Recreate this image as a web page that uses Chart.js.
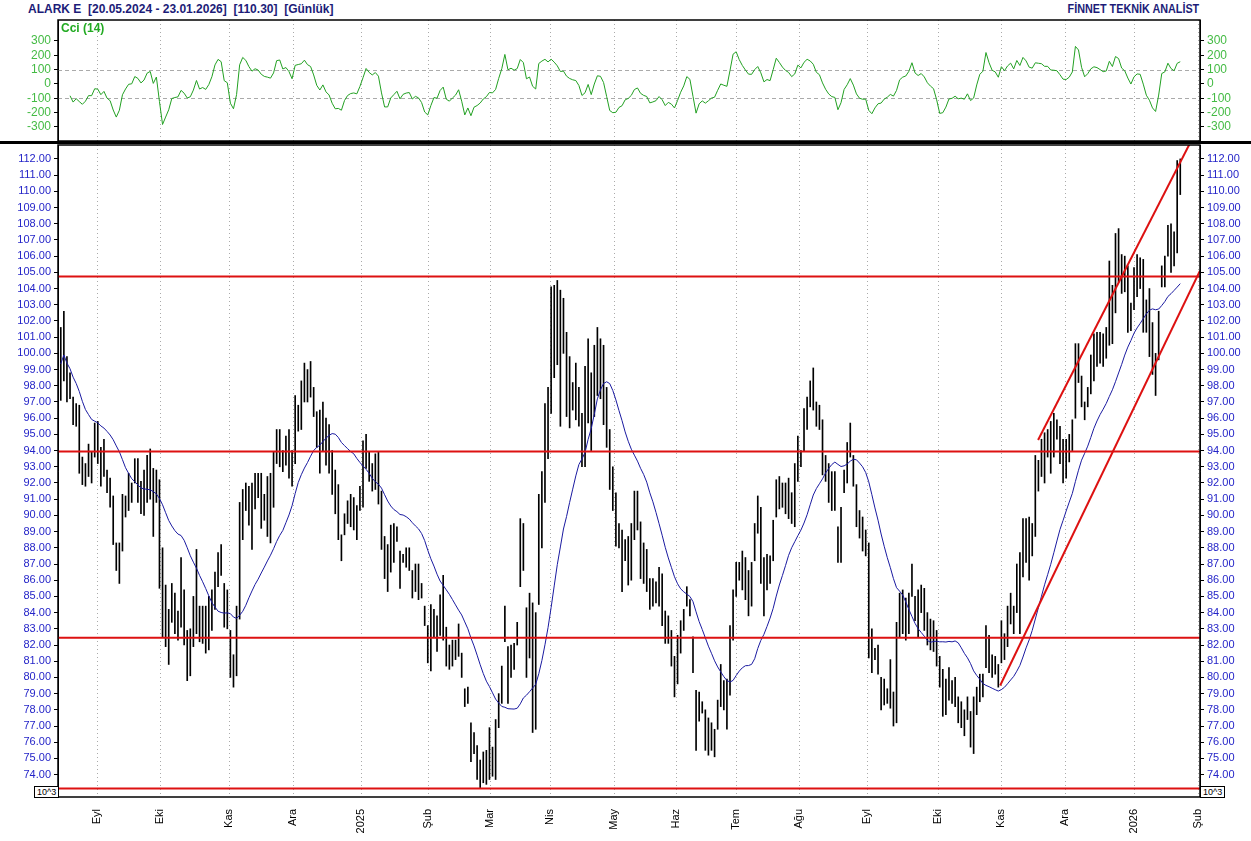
<!DOCTYPE html>
<html><head><meta charset="utf-8">
<script src="https://cdn.jsdelivr.net/npm/chart.js@4/dist/chart.umd.min.js"></script>
<style>
body{margin:0;width:1251px;height:841px;background:#fff;position:relative;overflow:hidden;font-family:"Liberation Sans",Arial,sans-serif}
canvas{position:absolute;left:0}
.t{position:absolute;font-weight:bold;font-size:12px;color:#1c1c78;white-space:pre}
.box{position:absolute;border:1px solid #000;font-size:9px;background:#fff;padding:0 2px;line-height:10px}
</style></head><body>
<div class="t" style="left:28px;top:2px">ALARK E  [20.05.2024 - 23.01.2026]  [110.30]  [Günlük]</div>
<div class="t" style="right:52px;top:2px;transform:scaleX(0.9);transform-origin:right">FİNNET TEKNİK ANALİST</div>
<canvas id="cci" width="1251" height="123" style="top:19px"></canvas>
<div style="position:absolute;left:0;top:141px;width:1251px;height:3px;background:#000"></div>
<canvas id="px" width="1251" height="697" style="top:144px"></canvas>
<div class="t" style="left:61px;top:21px;color:#22aa22">Cci (14)</div>
<div class="box" style="left:34px;top:786px">10^3</div>
<div class="box" style="left:1200px;top:786px">10^3</div>
<script>
const highs = [
101.6,102.6,99.8,98.8,97.3,96.9,96.8,93.6,93.2,94.4,93.9,95.7,95.8,94.2,94.7,92.8,92.3,91.2,88.3,88.3,91.3,91.2,92.6,92.0,93.5,93.5,92.1,92.8,93.7,94.1,92.9,92.8,92.2,88.0,85.7,84.2,85.8,85.2,84.1,87.4,85.4,82.9,83.0,85.0,87.9,84.4,84.4,84.4,85.0,85.4,86.5,87.7,88.2,85.8,85.4,82.9,81.4,84.4,90.8,91.6,92.0,91.8,92.0,92.6,92.6,
92.6,91.3,92.4,92.6,93.9,95.3,95.3,94.0,94.9,95.3,94.0,97.4,96.8,98.3,99.4,99.0,99.5,97.9,96.4,96.5,97.0,96.0,95.6,94.0,92.8,91.9,88.8,90.1,90.9,91.3,91.1,90.6,91.8,94.6,95.0,93.9,93.2,93.8,93.9,91.5,88.7,88.2,89.4,89.5,89.3,87.8,87.6,88.0,88.0,86.6,87.0,87.0,85.8,84.4,83.2,84.5,84.2,83.8,
85.1,86.3,83.1,82.0,82.3,82.3,83.3,81.5,79.3,79.4,77.2,76.6,75.8,74.9,75.4,75.5,76.9,75.7,77.4,79.0,80.7,84.4,81.9,82.0,82.1,83.4,89.8,89.5,84.3,85.2,84.6,84.0,91.3,92.7,96.9,97.9,104.1,104.2,104.5,103.9,103.4,101.3,99.8,98.2,99.4,97.9,96.3,99.2,100.9,98.8,100.5,101.6,100.9,100.5,97.9,95.3,93.0,91.4,89.5,89.1,88.5,88.7,
89.5,91.5,91.5,89.6,88.3,87.9,86.1,86.1,85.9,86.8,86.4,84.1,83.8,82.9,81.3,82.6,83.5,84.2,85.6,84.8,82.5,79.2,79.1,78.5,78.0,77.5,77.2,76.8,78.6,80.8,79.8,79.9,83.2,85.4,87.1,87.1,87.8,87.4,86.6,87.1,89.5,91.2,90.5,87.4,87.6,87.5,89.7,92.2,92.4,92.0,92.0,92.3,91.4,93.2,94.9,94.0,96.6,97.3,98.3,99.1,97.0,
96.8,95.9,93.7,93.2,92.7,92.7,89.3,90.5,92.8,94.5,95.7,93.7,91.9,90.3,89.9,89.1,88.3,83.0,81.8,82.0,80.0,79.9,79.3,81.1,79.1,83.4,85.2,85.4,84.9,85.2,87.0,85.0,85.4,85.7,85.5,84.0,83.6,83.5,82.9,81.3,80.5,79.9,80.6,79.8,80.0,78.8,78.5,78.0,78.8,77.9,78.8,79.4,80.2,80.2,83.2,82.6,81.4,81.3,80.8,83.5,82.7,84.4,
85.2,84.4,87.0,87.7,89.8,89.8,89.9,89.5,93.7,93.4,94.7,95.1,95.3,95.8,96.3,95.9,95.5,94.7,94.7,95.0,95.9,100.6,
100.6,98.6,97.0,97.9,99.9,101.2,101.3,101.3,101.2,101.6,105.7,104.2,107.4,107.7,106.1,106.0,105.4,103.1,105.3,106.1,105.9,105.8,103.3,104.0,101.9,100.0,102.6,105.4,106.0,107.9,108.0,107.5,111.9,112.0];
const lows = [
97.1,98.3,97.0,97.2,95.6,95.5,92.6,91.9,91.8,92.4,92.0,93.6,93.2,91.8,92.4,91.4,90.5,88.2,86.6,85.8,87.8,89.9,90.3,90.8,92.0,90.8,90.1,90.0,90.8,91.0,88.7,90.8,85.5,82.5,81.9,80.8,83.4,82.7,82.3,83.1,82.0,79.8,80.1,81.9,82.7,82.2,82.1,81.5,81.7,82.9,84.2,85.6,86.3,83.1,83.0,80.0,79.4,80.1,83.6,88.5,90.3,89.4,87.9,90.4,91.1,
89.2,89.7,88.7,88.3,90.5,93.2,93.0,92.7,93.1,92.3,91.8,93.2,95.2,95.3,97.0,97.0,97.3,96.1,94.2,92.6,94.0,93.1,92.6,91.3,90.1,88.5,87.2,88.8,89.5,89.3,89.1,88.5,90.3,90.5,92.9,92.1,91.5,91.6,90.7,87.9,86.1,85.3,86.5,87.1,88.4,85.5,87.1,86.8,86.6,84.9,85.3,84.8,84.9,83.2,80.9,80.4,82.5,81.6,
82.6,82.3,80.7,80.5,80.7,81.1,81.3,80.0,78.2,78.4,74.8,75.3,73.7,73.2,73.5,73.4,73.7,73.9,73.7,76.9,78.4,82.2,78.4,80.0,80.5,82.0,85.6,86.6,80.0,81.2,76.6,76.8,84.5,88.0,90.8,93.5,96.3,98.5,99.3,95.5,100.0,96.1,95.4,96.5,95.9,95.5,93.0,93.0,95.7,94.0,96.1,97.4,97.2,95.6,94.2,91.6,90.3,88.1,88.0,85.3,87.2,85.7,
86.0,88.5,89.1,86.1,85.8,85.3,84.2,84.4,84.6,84.4,83.2,82.1,82.1,80.7,78.8,79.6,81.5,82.9,84.4,83.8,80.3,75.5,77.3,77.8,75.5,75.2,75.5,75.1,76.8,78.2,78.0,76.8,78.9,82.3,85.0,86.0,85.4,84.8,83.8,84.4,87.2,88.9,85.8,83.8,85.4,85.8,87.2,89.9,90.4,90.5,90.1,89.8,89.5,89.3,92.1,93.0,94.0,95.3,96.7,96.5,95.5,
95.3,92.5,92.1,90.8,90.3,90.3,87.1,87.1,91.4,92.0,93.6,91.8,89.3,88.6,87.8,87.5,81.2,80.3,81.1,80.2,78.0,78.3,78.4,78.1,77.0,77.2,82.5,82.7,82.3,82.7,85.0,83.5,82.5,84.0,82.9,82.0,81.7,81.6,80.7,79.4,77.6,77.7,78.6,78.4,78.2,77.2,76.9,76.4,77.4,75.7,75.3,77.7,78.5,78.8,80.6,80.3,80.0,80.2,79.4,80.9,81.1,81.9,
83.3,82.7,84.0,82.7,86.2,87.1,86.0,87.5,88.7,91.5,92.4,92.0,93.6,92.6,93.6,94.7,93.2,92.0,92.3,93.3,94.0,96.0,
98.2,96.7,95.9,96.7,97.5,98.3,99.2,99.4,99.2,99.7,100.5,100.6,102.5,104.4,103.7,103.8,101.3,101.4,102.7,103.5,104.0,101.3,101.3,99.8,98.7,97.4,99.6,104.1,104.1,106.0,105.0,105.4,106.2,109.8];
const lastClose = 110.3;
const hLevels = [104.75, 93.95, 82.45, 73.15];
const upperChannel = [[316.9, 94.65], [366.5, 113.1]];
const lowerChannel = [[304.6, 79.5], [369.4, 105.1]];
const monthTickIdx = [11.8,32.2,54.6,75.3,97.4,119.1,139.2,158.7,179.4,199.5,219.0,239.4,261.4,284.5,304.9,325.7,348.1,368.7];
const monthLabels = ['Eyl','Eki','Kas','Ara','2025','Şub','Mar','Nis','May','Haz','Tem','Ağu','Eyl','Eki','Kas','Ara','2026','Şub'];
const priceTicks = []; for (let v = 74; v <= 112; v++) priceTicks.push(v);
const cciTicks = [-300,-200,-100,0,100,200,300];
const maPeriod = 20, cciPeriod = 14;

const N = highs.length;
const mids = highs.map((h,i)=>(h+lows[i])/2);
const closes = mids.slice(); closes[N-1] = lastClose;
const tp = highs.map((h,i)=>(h+lows[i]+closes[i])/3);
const ma = closes.map((_,i)=>{const s=Math.max(0,i-maPeriod+1);const w=closes.slice(s,i+1);return {x:i,y:w.reduce((a,b)=>a+b,0)/w.length};});
const cci = tp.map((_,i)=>{ if(i<3) return {x:i,y:null}; const s=Math.max(0,i-cciPeriod+1); const w=tp.slice(s,i+1); const m=w.reduce((a,b)=>a+b,0)/w.length; const md=w.reduce((a,b)=>a+Math.abs(b-m),0)/w.length; return {x:i,y:md?(tp[i]-m)/(0.015*md):0};});
const bars = highs.map((h,i)=>({x:i,y:[lows[i],h]}));

const XMIN=-0.9, XMAX=369.4;
const lblFont={family:'"Liberation Sans", Arial',size:11};
const cciFont={family:'"Liberation Sans", Arial',size:12};
const frame={id:'frame',beforeDatasetsDraw(ch){const {ctx,chartArea:a,scales}=ch;ctx.save();ctx.strokeStyle='#aaa';ctx.lineWidth=1;ctx.setLineDash([1,3]);
  monthTickIdx.forEach(v=>{const x=Math.round(scales.x.getPixelForValue(v))+0.5;ctx.beginPath();ctx.moveTo(x,a.top);ctx.lineTo(x,a.bottom);ctx.stroke();});
  if(ch.canvas.id==='cci'){ctx.setLineDash([4,3]);[100,-100].forEach(v=>{const y=Math.round(scales.y.getPixelForValue(v))+0.5;ctx.beginPath();ctx.moveTo(a.left,y);ctx.lineTo(a.right,y);ctx.stroke();});}
  ctx.restore();},
 afterDraw(ch){const {ctx,chartArea:a}=ch;ctx.save();ctx.strokeStyle='#000';ctx.lineWidth=1.5;ctx.strokeRect(a.left,a.top,a.right-a.left,a.bottom-a.top);ctx.restore();}};
const noPad=s=>{s.paddingLeft=0;s.paddingRight=0;s.paddingTop=0;s.paddingBottom=0;};
const yAxis=(pos,min,max,vals,fmt,color,font)=>({position:pos,min,max,afterFit:s=>{s.width=pos==='left'?58:51;noPad(s);},
  afterBuildTicks:s=>{s.ticks=vals.map(v=>({value:v}));},
  ticks:{color,font,padding:3,callback:fmt},grid:{drawOnChartArea:false,color:'#000',tickLength:4},border:{color:'#000'}});

new Chart(document.getElementById('px'),{type:'bar',
 data:{datasets:[
  {type:'line',data:ma,borderColor:'#1a1aa0',borderWidth:1,pointRadius:0,tension:0,order:2},
  ...hLevels.map(v=>({type:'line',data:[{x:XMIN,y:v},{x:XMAX,y:v}],borderColor:'#dd1111',borderWidth:2,pointRadius:0,order:1})),
  {type:'line',data:upperChannel.map(p=>({x:p[0],y:p[1]})),borderColor:'#dd1111',borderWidth:2,pointRadius:0,order:1},
  {type:'line',data:lowerChannel.map(p=>({x:p[0],y:p[1]})),borderColor:'#dd1111',borderWidth:2,pointRadius:0,order:1},
  {type:'bar',data:bars,backgroundColor:'#000',barThickness:1,order:3}
 ]},
 options:{responsive:false,animation:false,events:[],layout:{padding:{top:1,left:0,right:0}},
  plugins:{legend:{display:false},tooltip:{enabled:false}},
  scales:{
   x:{type:'linear',offset:false,min:XMIN,max:XMAX,afterFit:s=>{s.height=44;noPad(s);},afterBuildTicks:s=>{s.ticks=monthTickIdx.map(v=>({value:v}));},
      ticks:{autoSkip:false,minRotation:90,maxRotation:90,color:'#000',font:lblFont,padding:4,callback:(v,i)=>monthLabels[i]},
      grid:{display:false,offset:false},border:{display:false}},
   y:yAxis('left',72.62,112.86,priceTicks,v=>v.toFixed(2),'#2424c8',lblFont),
   y2:yAxis('right',72.62,112.86,priceTicks,v=>v.toFixed(2),'#2424c8',lblFont)
  }},plugins:[frame]});

new Chart(document.getElementById('cci'),{type:'line',
 data:{datasets:[{data:cci,borderColor:'#22a022',borderWidth:1,pointRadius:0,tension:0,spanGaps:false}]},
 options:{responsive:false,animation:false,events:[],layout:{padding:{top:1,bottom:1}},
  plugins:{legend:{display:false},tooltip:{enabled:false}},
  scales:{
   x:{type:'linear',min:XMIN,max:XMAX,display:false},
   y:yAxis('left',-398,446,cciTicks,v=>String(v),'#44bb44',cciFont),
   y2:yAxis('right',-398,446,cciTicks,v=>String(v),'#44bb44',cciFont)
  }},plugins:[frame]});
</script></body></html>
